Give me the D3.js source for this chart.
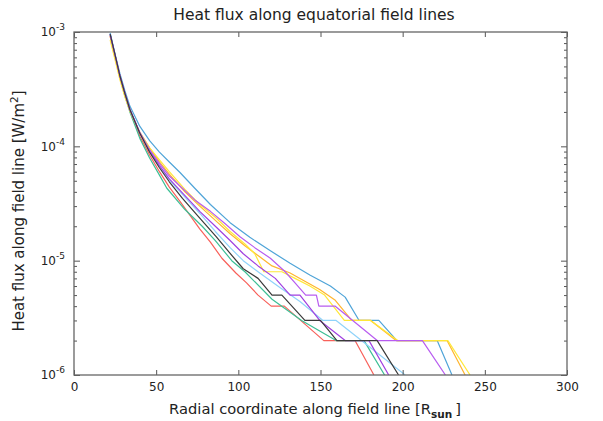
<!DOCTYPE html>
<html lang="en">
<head>
<meta charset="UTF-8">
<title>Heat flux along equatorial field lines</title>
<script src="https://cdn.jsdelivr.net/npm/d3@7/dist/d3.min.js"></script>
<style>
    body { margin: 0; background: #fff; }
    svg { display: block; font-family: "DejaVu Sans", Verdana, sans-serif; }
    .series { fill: none; stroke-width: 1.2px; stroke-linejoin: round; }
    .tick line { stroke: #555; }
    .tick text { fill: #222; font-size: 12px; font-family: "DejaVu Sans", Verdana, sans-serif; }
    .frame { fill: none; stroke: #666; stroke-width: 1.3px; }
    .label { fill: #222; }
</style>
</head>
<body>
<svg width="603" height="421"></svg>
<script>
    // axis ticks
    var xTicks = [0, 50, 100, 150, 200, 250, 300];
    var yTicks = [1e-6, 1e-5, 1e-4, 1e-3];

    // [radial coordinate (R_sun), heat flux (W/m^2)] per field line
    var lineRed = [[22,9.2e-4],[25,6.0e-4],[28,4.0e-4],[31,2.8e-4],[34,2.08e-4],[40,1.23e-4],[46,8.4e-5],[52,6.0e-5],[58,4.4e-5],[64.5,3.3e-5],[70.5,2.5e-5],[76.5,1.9e-5],[83,1.45e-5],[90,1.05e-5],[98.5,7.8e-6],[105,6.4e-6],[112,5e-6],[120,4e-6],[128,4e-6],[152,2e-6],[171,2e-6],[182.5,1e-6]];
    var lineGreen = [[22,9.6e-4],[25,6.2e-4],[28,4.0e-4],[31,2.75e-4],[34,2.0e-4],[40,1.18e-4],[46,7.9e-5],[52,5.6e-5],[56.5,4.3e-5],[67.5,2.8e-5],[78,2.0e-5],[86,1.5e-5],[96,1.0e-5],[104,8e-6],[120.5,4.6e-6],[138.5,3e-6],[159.5,2e-6],[176.5,2e-6],[189,1e-6]];
    var lineLightBlue = [[22,9.4e-4],[25,6.2e-4],[28,4.1e-4],[31,2.9e-4],[34,2.1e-4],[40,1.31e-4],[46,9.1e-5],[52,6.7e-5],[58,5.1e-5],[67.5,3.6e-5],[76.5,2.6e-5],[86,1.8e-5],[95,1.3e-5],[103,1.0e-5],[113,7.8e-6],[125.5,5.8e-6],[137.5,4.4e-6],[151.5,3e-6],[159.5,3e-6],[201.5,1e-6]];
    var lineBlue = [[22,9.8e-4],[25,6.4e-4],[28,4.3e-4],[31,3.05e-4],[34,2.25e-4],[40,1.5e-4],[46,1.12e-4],[52,8.9e-5],[58,7.3e-5],[64.5,5.9e-5],[73.5,4.3e-5],[83,3.1e-5],[95,2.15e-5],[107,1.6e-5],[119.5,1.22e-5],[131.5,9.5e-6],[143.5,7.5e-6],[156,6e-6],[165,4.8e-6],[173.5,3e-6],[185.5,3e-6],[196.5,2e-6],[221,2e-6],[230,1e-6]];
    var lineOrange = [[22,9.2e-4],[25,6.0e-4],[28,4.0e-4],[31,2.8e-4],[34,2.08e-4],[40,1.33e-4],[46,9.7e-5],[52,7.3e-5],[58,5.7e-5],[67.5,4.0e-5],[76.5,3.0e-5],[86,2.25e-5],[95,1.72e-5],[104,1.35e-5],[113,1.08e-5],[120.5,9e-6],[131.5,7.8e-6],[140.5,6.6e-6],[149.5,5.6e-6],[159,4.5e-6],[169,3e-6],[180.5,3e-6],[196,2e-6],[227,2e-6],[238,1e-6]];
    var lineYellow = [[22,8.5e-4],[25,5.7e-4],[28,3.8e-4],[31,2.7e-4],[34,2.04e-4],[40,1.31e-4],[46,9.7e-5],[52,7.6e-5],[58,6.0e-5],[67.5,4.2e-5],[76.5,3.1e-5],[86,2.4e-5],[95,1.8e-5],[104,1.4e-5],[110,1.15e-5],[115.5,8e-6],[126.5,8e-6],[134.5,7e-6],[143.5,6e-6],[152.5,5e-6],[164.5,3e-6],[180.5,3e-6],[197,2e-6],[227.5,2e-6],[241,1e-6]];
    var linePurple = [[22,9.6e-4],[25,6.3e-4],[28,4.1e-4],[31,2.9e-4],[34,2.1e-4],[40,1.31e-4],[46,9.3e-5],[52,6.8e-5],[58,5.2e-5],[67.5,3.7e-5],[76.5,2.7e-5],[86,2.0e-5],[95,1.5e-5],[103,1.15e-5],[112,9e-6],[122.5,7e-6],[131.5,5e-6],[137.5,5e-6],[149.5,3e-6],[165,2e-6],[179.5,2e-6],[191.5,1e-6]];
    var lineViolet = [[22,9.4e-4],[25,6.2e-4],[28,4.1e-4],[31,2.9e-4],[34,2.1e-4],[40,1.33e-4],[46,9.3e-5],[52,7.1e-5],[58,5.5e-5],[64.5,4.5e-5],[73.5,3.4e-5],[83,2.7e-5],[92,2.1e-5],[101,1.62e-5],[110,1.3e-5],[119.5,1.05e-5],[128.5,8e-6],[134.5,6.4e-6],[141,5e-6],[147.5,5e-6],[149,4e-6],[159,4e-6],[184.5,2e-6],[212,2e-6],[226,1e-6]];
    var lineBlack = [[22,9.6e-4],[25,6.3e-4],[28,4.1e-4],[31,2.9e-4],[34,2.1e-4],[40,1.31e-4],[46,8.9e-5],[52,6.5e-5],[58,4.9e-5],[66,3.5e-5],[76,2.4e-5],[86.5,1.62e-5],[94.5,1.18e-5],[103,8.5e-6],[112,7e-6],[120.5,5e-6],[126.5,5e-6],[140.5,3e-6],[150,3e-6],[160,2e-6],[184.5,2e-6],[197.5,1e-6]];

    var series = [
        {data: lineRed, color: '#f8605a'},
        {data: lineGreen, color: '#3cbf95'},
        {data: lineLightBlue, color: '#8fd3fa'},
        {data: lineBlue, color: '#4fa4d8'},
        {data: lineOrange, color: '#ffb52e'},
        {data: lineYellow, color: '#ffe838'},
        {data: linePurple, color: '#a040e0'},
        {data: lineViolet, color: '#b85cf0'},
        {data: lineBlack, color: '#3a3a3a'}
    ];

    var svg = d3.select('svg'),
        width = parseInt(svg.attr('width')),
        height = parseInt(svg.attr('height')),
        margin = {top: 32, right: 36, bottom: 46, left: 74},
        chartWidth = width - margin.left - margin.right,
        chartHeight = height - margin.top - margin.bottom,
        xScale = d3.scaleLinear().domain([0, 300]).range([0, chartWidth]),
        yScale = d3.scaleLog().domain([1e-6, 1e-3]).range([chartHeight, 0]),
        yMinor = yScale.ticks().filter(function(d) { return yTicks.indexOf(d) < 0; }),
        lineG = d3.line()
            .x(function(d) { return xScale(d[0]); })
            .y(function(d) { return yScale(d[1]); }),
        chartG = svg.append('g')
            .attr('transform', 'translate(' + [margin.left, margin.top] + ')');

    svg.append('defs').append('clipPath').attr('id', 'plot-clip')
        .append('rect').attr('width', chartWidth).attr('height', chartHeight);

    // curves
    chartG.append('g').attr('clip-path', 'url(#plot-clip)')
        .selectAll('path')
        .data(series)
        .enter().append('path')
        .classed('series', true)
        .attr('stroke', function(d) { return d.color; })
        .attr('d', function(d) { return lineG(d.data); });

    // axes, ticks pointing into the plot
    chartG.append('g')
        .attr('transform', 'translate(' + [0, chartHeight] + ')')
        .call(d3.axisBottom(xScale).tickValues(xTicks).tickSizeInner(-5).tickSizeOuter(0).tickPadding(7));

    chartG.append('g')
        .call(d3.axisTop(xScale).tickValues(xTicks).tickSizeInner(-5).tickSizeOuter(0).tickFormat(''));

    var yAxisG = chartG.append('g')
        .call(d3.axisLeft(yScale).tickValues(yTicks).tickSizeInner(-6).tickSizeOuter(0).tickPadding(9));

    yAxisG.selectAll('.tick text').each(function(d) {
        var t = d3.select(this).text('');
        t.append('tspan').text('10');
        t.append('tspan').attr('dy', -6).attr('font-size', '9px').text(Math.round(Math.log10(d)));
    });

    chartG.append('g')
        .call(d3.axisLeft(yScale).tickValues(yMinor).tickSizeInner(-3).tickSizeOuter(0).tickFormat(''));

    chartG.append('g')
        .attr('transform', 'translate(' + [chartWidth, 0] + ')')
        .call(d3.axisRight(yScale).tickValues(yTicks).tickSizeInner(-6).tickSizeOuter(0).tickFormat(''));

    chartG.append('g')
        .attr('transform', 'translate(' + [chartWidth, 0] + ')')
        .call(d3.axisRight(yScale).tickValues(yMinor).tickSizeInner(-3).tickSizeOuter(0).tickFormat(''));

    chartG.selectAll('.domain').remove();

    chartG.append('rect')
        .classed('frame', true)
        .attr('width', chartWidth)
        .attr('height', chartHeight);

    // title and axis labels
    svg.append('text')
        .classed('label', true)
        .attr('x', 314)
        .attr('y', 20)
        .attr('font-size', '15.5px')
        .attr('text-anchor', 'middle')
        .text('Heat flux along equatorial field lines');

    var xLabel = svg.append('text')
        .classed('label', true)
        .attr('x', 315)
        .attr('y', 414)
        .attr('font-size', '14.7px')
        .attr('text-anchor', 'middle');
    xLabel.append('tspan').text('Radial coordinate along field line [R');
    xLabel.append('tspan').attr('dy', 4).attr('font-size', '10.5px').attr('font-weight', 'bold').text('sun');
    xLabel.append('tspan').attr('dy', -4).text('\u2009]');

    var yLabel = svg.append('text')
        .classed('label', true)
        .attr('transform', 'translate(24,211) rotate(-90)')
        .attr('font-size', '15px')
        .attr('text-anchor', 'middle');
    yLabel.append('tspan').text('Heat flux along field line [W/m');
    yLabel.append('tspan').attr('dy', -6).attr('font-size', '10.5px').text('2');
    yLabel.append('tspan').attr('dy', 6).text(']');
</script>
</body>
</html>
